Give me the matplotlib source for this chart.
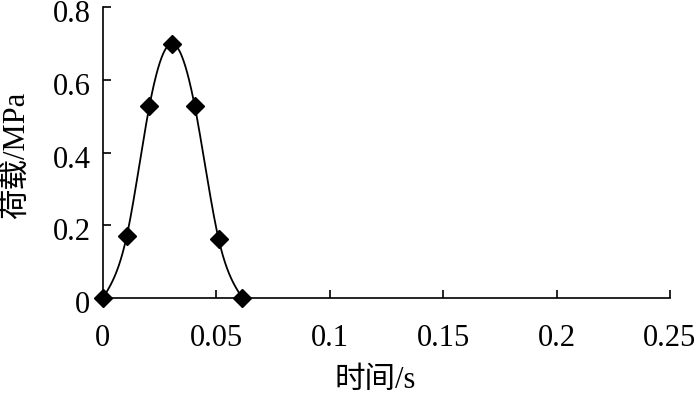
import numpy as np
import matplotlib
matplotlib.use("Agg")
import matplotlib.pyplot as plt
from matplotlib.transforms import ScaledTranslation

plt.rcParams['font.family'] = ['Liberation Serif', 'Noto Sans CJK SC']

time_s = [0.0, 0.0105, 0.0205, 0.0305, 0.0405, 0.051, 0.0615]
load_mpa = [0.0, 0.17, 0.528, 0.70, 0.528, 0.163, 0.0]
xticks = [0, 0.05, 0.1, 0.15, 0.2, 0.25]
xticklabels = ["0", "0.05", "0.1", "0.15", "0.2", "0.25"]
yticks = [0, 0.2, 0.4, 0.6, 0.8]
yticklabels = ["0", "0.2", "0.4", "0.6", "0.8"]


def natural_spline(x, y, n=300):
    x = np.asarray(x, float); y = np.asarray(y, float)
    m = len(x); h = np.diff(x)
    A = np.zeros((m, m)); b = np.zeros(m)
    A[0, 0] = 1; A[-1, -1] = 1
    for i in range(1, m - 1):
        A[i, i - 1] = h[i - 1]; A[i, i] = 2 * (h[i - 1] + h[i]); A[i, i + 1] = h[i]
        b[i] = 3 * ((y[i + 1] - y[i]) / h[i] - (y[i] - y[i - 1]) / h[i - 1])
    c = np.linalg.solve(A, b)
    xs = np.linspace(x[0], x[-1], n); ys = np.empty_like(xs)
    for k, xv in enumerate(xs):
        i = min(np.searchsorted(x, xv, side='right') - 1, m - 2)
        bi = (y[i + 1] - y[i]) / h[i] - h[i] * (c[i + 1] + 2 * c[i]) / 3
        di = (c[i + 1] - c[i]) / (3 * h[i])
        dx = xv - x[i]
        ys[k] = y[i] + bi * dx + c[i] * dx ** 2 + di * dx ** 3
    return xs, ys


fig = plt.figure(figsize=(7, 3.99), dpi=100)
ax = fig.add_axes([0.147, 0.253, 0.81, 0.729])

xs, ys = natural_spline(time_s, load_mpa)
ax.plot(xs, ys, color='black', lw=1.3, clip_on=False)
ax.plot(time_s, load_mpa, linestyle='none', marker='D', color='black', markersize=9.5, clip_on=False, zorder=5)

ax.set_xlim(0, 0.25)
ax.set_ylim(0, 0.8)
ax.set_xticks(xticks)
ax.set_xticklabels(xticklabels)
ax.set_yticks(yticks)
ax.set_yticklabels(yticklabels)
ax.spines['top'].set_visible(False)
ax.spines['right'].set_visible(False)
for s in ('left', 'bottom'):
    ax.spines[s].set_linewidth(1.2)
ax.tick_params(direction='in', length=6, width=1.2, labelsize=22)
ax.tick_params(axis='x', pad=19)
ax.tick_params(axis='y', pad=9)
shift = ScaledTranslation(0, -4 / 100, fig.dpi_scale_trans)
for lab in ax.get_yticklabels():
    lab.set_transform(lab.get_transform() + shift)

ax.set_xlabel('时间/s', fontsize=22)
ax.set_ylabel('荷载/MPa', fontsize=22)
ax.xaxis.label.set_va('center')
ax.yaxis.label.set_va('center')
ax.xaxis.set_label_coords((375 - 103) / 567, -(380 - 298) / 291)
ax.yaxis.set_label_coords(-(103 - 17) / 567, (298 - 155) / 291)

fig.savefig('out.png', dpi=100)
